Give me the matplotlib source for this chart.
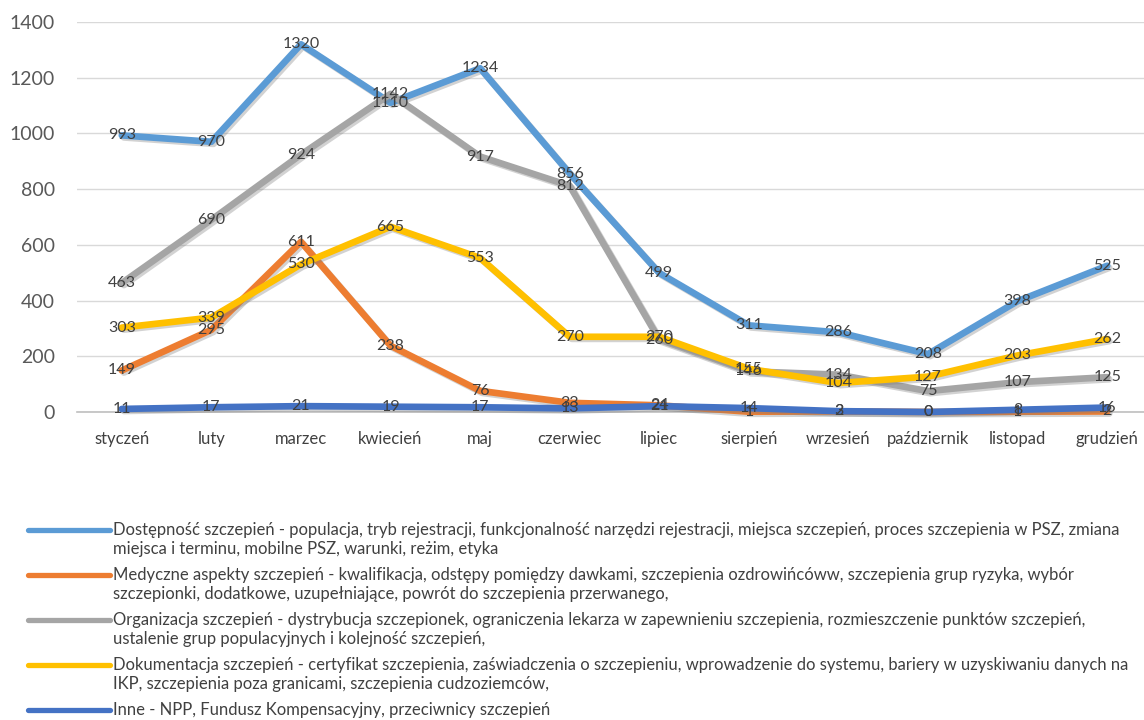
import matplotlib
matplotlib.use("Agg")
import matplotlib.pyplot as plt
import matplotlib.patheffects as pe
from matplotlib.lines import Line2D

months = ["styczeń", "luty", "marzec", "kwiecień", "maj", "czerwiec", "lipiec",
          "sierpień", "wrzesień", "październik", "listopad", "grudzień"]

dostepnosc = [993, 970, 1320, 1110, 1234, 856, 499, 311, 286, 208, 398, 525]
medyczne = [149, 295, 611, 238, 76, 33, 24, 1, 2, 0, 1, 2]
organizacja = [463, 690, 924, 1142, 917, 812, 260, 146, 134, 75, 107, 125]
dokumentacja = [303, 339, 530, 665, 553, 270, 270, 155, 104, 127, 203, 262]
inne = [11, 17, 21, 19, 17, 13, 21, 14, 3, 0, 8, 16]

labels = [
    "Dostępność szczepień - populacja, tryb rejestracji, funkcjonalność narzędzi rejestracji, miejsca szczepień, proces szczepienia w PSZ, zmiana\nmiejsca i terminu, mobilne PSZ, warunki, reżim, etyka",
    "Medyczne aspekty szczepień - kwalifikacja, odstępy pomiędzy dawkami, szczepienia ozdrowińcóww, szczepienia grup ryzyka, wybór\nszczepionki, dodatkowe, uzupełniające, powrót do szczepienia przerwanego,",
    "Organizacja szczepień - dystrybucja szczepionek, ograniczenia lekarza w zapewnieniu szczepienia, rozmieszczenie punktów szczepień,\nustalenie grup populacyjnych i kolejność szczepień,",
    "Dokumentacja szczepień - certyfikat szczepienia, zaświadczenia o szczepieniu, wprowadzenie do systemu, bariery w uzyskiwaniu danych na\nIKP, szczepienia poza granicami, szczepienia cudzoziemców,",
    "Inne - NPP, Fundusz Kompensacyjny, przeciwnicy szczepień",
]
series = [dostepnosc, medyczne, organizacja, dokumentacja, inne]
colors = ["#5B9BD5", "#ED7D31", "#A5A5A5", "#FFC000", "#4472C4"]

yticks = [0, 200, 400, 600, 800, 1000, 1200, 1400]

FONT = ["Lato", "DejaVu Sans"]
plt.rcParams["font.family"] = FONT

W, H = 1144, 720
fig = plt.figure(figsize=(W / 100, H / 100), dpi=100)
left_px, right_px = 77, 1144
bottom_px, top_px = 412, 22
ax = fig.add_axes([left_px / W, 1 - bottom_px / H, (right_px - left_px) / W, (bottom_px - top_px) / H])

x = list(range(len(months)))
shadow = [pe.SimpleLineShadow(offset=(1.5, -1.5), shadow_color="#7F7F7F", alpha=0.35), pe.Normal()]
for vals, col in zip(series, colors):
    ax.plot(x, vals, color=col, lw=4.8, solid_joinstyle="round", solid_capstyle="round",
            clip_on=False, zorder=3, path_effects=shadow)
for vals in series:
    for xi, v in zip(x, vals):
        ax.text(xi, v, str(v), ha="center", va="center", fontsize=11.5, color="#404040", zorder=5)

ax.set_xlim(-0.5, 11.5 - 8 / 89.5)
ax.set_ylim(0, 1400)
ax.set_yticks(yticks)
ax.set_yticklabels([str(t) for t in yticks], fontsize=14, color="#595959")
ax.set_xticks(x)
ax.set_xticklabels(months, fontsize=12, color="#404040")
ax.tick_params(axis="both", length=0)
ax.tick_params(axis="y", pad=16)
ax.tick_params(axis="x", pad=14)
ax.grid(axis="y", color="#D9D9D9", lw=1)
ax.set_axisbelow(True)
for s in ["top", "right", "left"]:
    ax.spines[s].set_visible(False)
ax.spines["bottom"].set_color("#BFBFBF")
ax.spines["bottom"].set_linewidth(1.2)

# legend drawn manually
ys = [530, 575, 620, 665, 710]
for lab, col, yp in zip(labels, colors, ys):
    fy = 1 - yp / H
    fig.add_artist(Line2D([28 / W, 110 / W], [fy, fy], color=col, lw=3.8, solid_capstyle="round"))
    fig.text(113 / W, 1 - (yp - 8) / H, lab, ha="left", va="top", fontsize=12, color="#404040",
             linespacing=1.2, transform=fig.transFigure)

fig.savefig("out.png", dpi=100)
